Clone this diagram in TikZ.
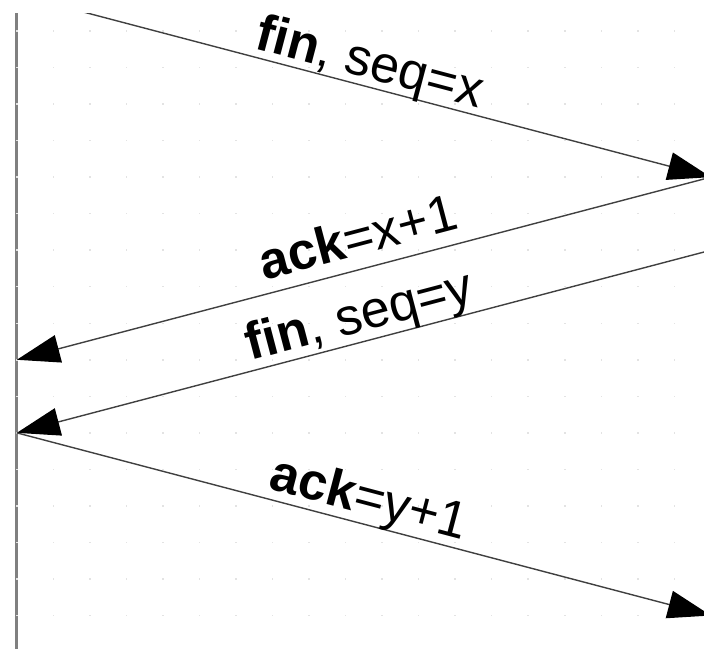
\documentclass[tikz,border=0pt]{standalone}
\usepackage{fontspec}
\setmainfont{Liberation Sans}[Ligatures=CommonOff]
\usetikzlibrary{arrows.meta}

\tikzset{
  lifeline/.style={line width=2.8pt, draw=black!50},
  msg/.style={line width=1.4pt, draw=black!75,
    -{Triangle[length=43pt,width=28pt,color=black]}},
  msglabel/.style={sloped, anchor=south, inner sep=0pt, text depth=0pt,
    font=\fontsize{52}{60}\selectfont},
  griddot/.style={fill=black!11}
}

\begin{document}
\begin{tikzpicture}[x=36.53pt,y=-36.53pt]
  \useasboundingbox (-0.46,0.1506) rectangle (18.812,17.917);
  \clip (-0.46,0.5338) rectangle (18.812,17.917);

  % end points of the messages on the two lifelines
  \coordinate (A0) at (0,0);
  \coordinate (A2) at (0,10);
  \coordinate (A3) at (0,12);
  \coordinate (Aend) at (0,18);
  \coordinate (B1) at (19,5);
  \coordinate (B3) at (19,7);
  \coordinate (B4) at (19,17);

  % left lifeline
  \draw[lifeline] (A0) -- (Aend);

  % dotted background grid
  \foreach \i in {0,...,18}
    \foreach \j in {1,...,17}
      \fill[griddot] (\i,\j) +(-0.75pt,-0.75pt) rectangle +(0.75pt,0.75pt);

  % messages
  \draw[msg] (A0) -- (B1);
  \draw[msg] (B1) -- (A2);
  \draw[msg] (B3) -- (A3);
  \draw[msg] (A3) -- (B4);

  % message labels
  \path (A0) -- (B1) node[msglabel, pos=0.5, outer ysep=8pt] (l1) {\textbf{fin}, seq=x};
  \path (A2) -- (B1) node[msglabel, pos=0.503, outer ysep=14pt] (l2) {\textbf{ack}=x+1};
  \path (A3) -- (B3) node[msglabel, pos=0.503, outer ysep=10pt] (l3) {\textbf{fin}, seq=y};
  \path (A3) -- (B4) node[msglabel, pos=0.498, outer ysep=10pt] (l4) {\textbf{ack}=y+1};
\end{tikzpicture}
\end{document}
